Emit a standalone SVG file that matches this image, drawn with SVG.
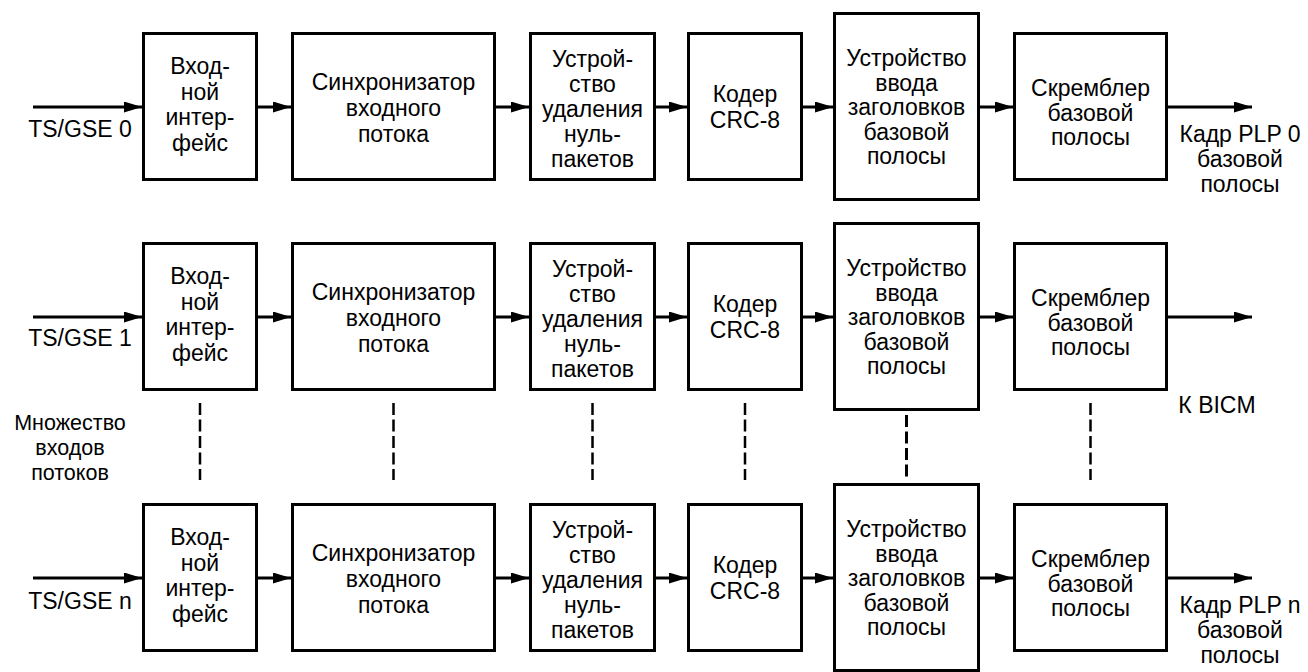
<svg xmlns="http://www.w3.org/2000/svg" width="1308" height="672" viewBox="0 0 1308 672">
<style>
  .box{fill:#fff;stroke:#000;stroke-width:3}
  .t{font-family:"Liberation Sans",Arial,sans-serif;font-size:23px;fill:#000;text-anchor:middle}
  .s{font-size:21.5px}
  .c{stroke:#000;stroke-width:3;fill:none}
  .d{stroke:#000;stroke-width:2.5;fill:none;stroke-dasharray:12 4.5}
</style>
<defs>
  <marker id="ah" markerUnits="userSpaceOnUse" markerWidth="18" markerHeight="11" refX="18" refY="5.5" orient="auto">
    <path d="M0,0 L18,5.5 L0,11 z" fill="#000"/>
  </marker>
</defs>
<rect width="1308" height="672" fill="#fff"/>

<!-- Row 0 -->
<g id="r0-iface"><rect class="box" x="143.5" y="33.5" width="113" height="146"/>
  <text class="t" x="200" y="74">Вход-</text><text class="t" x="200" y="99.5">ной</text><text class="t" x="200" y="125">интер-</text><text class="t" x="200" y="151">фейс</text></g>
<g id="r0-sync"><rect class="box" x="292.5" y="33.5" width="202" height="146"/>
  <text class="t" x="393.5" y="90">Синхронизатор</text><text class="t" x="393.5" y="116">входного</text><text class="t" x="393.5" y="141.5">потока</text></g>
<g id="r0-null"><rect class="box" x="530.5" y="33.5" width="124" height="146"/>
  <text class="t" x="592.5" y="66.5">Устрой-</text><text class="t" x="592.5" y="91.5">ство</text><text class="t" x="592.5" y="116.5">удаления</text><text class="t" x="592.5" y="141.5">нуль-</text><text class="t" x="592.5" y="166.5">пакетов</text></g>
<g id="r0-crc"><rect class="box" x="688.5" y="33.5" width="113" height="146"/>
  <text class="t" x="745" y="101.5">Кодер</text><text class="t" x="745" y="128">CRC-8</text></g>
<g id="r0-hdr"><rect class="box" x="834.5" y="13.5" width="144" height="186"/>
  <text class="t" x="906.5" y="66">Устройство</text><text class="t" x="906.5" y="90.5">ввода</text><text class="t" x="906.5" y="115">заголовков</text><text class="t" x="906.5" y="139.5">базовой</text><text class="t" x="906.5" y="164">полосы</text></g>
<g id="r0-scr"><rect class="box" x="1014.5" y="33.5" width="152" height="146"/>
  <text class="t" x="1090.5" y="96">Скремблер</text><text class="t" x="1090.5" y="120.5">базовой</text><text class="t" x="1090.5" y="145">полосы</text></g>

<!-- Row 1 -->
<g id="r1-iface" transform="translate(0,210)"><rect class="box" x="143.5" y="33.5" width="113" height="146"/>
  <text class="t" x="200" y="74">Вход-</text><text class="t" x="200" y="99.5">ной</text><text class="t" x="200" y="125">интер-</text><text class="t" x="200" y="151">фейс</text></g>
<g id="r1-sync" transform="translate(0,210)"><rect class="box" x="292.5" y="33.5" width="202" height="146"/>
  <text class="t" x="393.5" y="90">Синхронизатор</text><text class="t" x="393.5" y="116">входного</text><text class="t" x="393.5" y="141.5">потока</text></g>
<g id="r1-null" transform="translate(0,210)"><rect class="box" x="530.5" y="33.5" width="124" height="146"/>
  <text class="t" x="592.5" y="66.5">Устрой-</text><text class="t" x="592.5" y="91.5">ство</text><text class="t" x="592.5" y="116.5">удаления</text><text class="t" x="592.5" y="141.5">нуль-</text><text class="t" x="592.5" y="166.5">пакетов</text></g>
<g id="r1-crc" transform="translate(0,210)"><rect class="box" x="688.5" y="33.5" width="113" height="146"/>
  <text class="t" x="745" y="101.5">Кодер</text><text class="t" x="745" y="128">CRC-8</text></g>
<g id="r1-hdr" transform="translate(0,210)"><rect class="box" x="834.5" y="13.5" width="144" height="186"/>
  <text class="t" x="906.5" y="66">Устройство</text><text class="t" x="906.5" y="90.5">ввода</text><text class="t" x="906.5" y="115">заголовков</text><text class="t" x="906.5" y="139.5">базовой</text><text class="t" x="906.5" y="164">полосы</text></g>
<g id="r1-scr" transform="translate(0,210)"><rect class="box" x="1014.5" y="33.5" width="152" height="146"/>
  <text class="t" x="1090.5" y="96">Скремблер</text><text class="t" x="1090.5" y="120.5">базовой</text><text class="t" x="1090.5" y="145">полосы</text></g>

<!-- Row n -->
<g id="rn-iface" transform="translate(0,471)"><rect class="box" x="143.5" y="33.5" width="113" height="146"/>
  <text class="t" x="200" y="74">Вход-</text><text class="t" x="200" y="99.5">ной</text><text class="t" x="200" y="125">интер-</text><text class="t" x="200" y="151">фейс</text></g>
<g id="rn-sync" transform="translate(0,471)"><rect class="box" x="292.5" y="33.5" width="202" height="146"/>
  <text class="t" x="393.5" y="90">Синхронизатор</text><text class="t" x="393.5" y="116">входного</text><text class="t" x="393.5" y="141.5">потока</text></g>
<g id="rn-null" transform="translate(0,471)"><rect class="box" x="530.5" y="33.5" width="124" height="146"/>
  <text class="t" x="592.5" y="66.5">Устрой-</text><text class="t" x="592.5" y="91.5">ство</text><text class="t" x="592.5" y="116.5">удаления</text><text class="t" x="592.5" y="141.5">нуль-</text><text class="t" x="592.5" y="166.5">пакетов</text></g>
<g id="rn-crc" transform="translate(0,471)"><rect class="box" x="688.5" y="33.5" width="113" height="146"/>
  <text class="t" x="745" y="101.5">Кодер</text><text class="t" x="745" y="128">CRC-8</text></g>
<g id="rn-hdr" transform="translate(0,471)"><rect class="box" x="834.5" y="13.5" width="144" height="186"/>
  <text class="t" x="906.5" y="66">Устройство</text><text class="t" x="906.5" y="90.5">ввода</text><text class="t" x="906.5" y="115">заголовков</text><text class="t" x="906.5" y="139.5">базовой</text><text class="t" x="906.5" y="164">полосы</text></g>
<g id="rn-scr" transform="translate(0,471)"><rect class="box" x="1014.5" y="33.5" width="152" height="146"/>
  <text class="t" x="1090.5" y="96">Скремблер</text><text class="t" x="1090.5" y="120.5">базовой</text><text class="t" x="1090.5" y="145">полосы</text></g>

<!-- Connectors -->
<g id="connectors">
  <g id="row0-arrows">
    <line class="c" x1="33" y1="107" x2="142" y2="107" marker-end="url(#ah)"/>
    <line class="c" x1="258" y1="107" x2="291" y2="107" marker-end="url(#ah)"/>
    <line class="c" x1="496" y1="107" x2="529" y2="107" marker-end="url(#ah)"/>
    <line class="c" x1="656" y1="107" x2="687" y2="107" marker-end="url(#ah)"/>
    <line class="c" x1="803" y1="107" x2="833" y2="107" marker-end="url(#ah)"/>
    <line class="c" x1="980" y1="107" x2="1013" y2="107" marker-end="url(#ah)"/>
    <line class="c" x1="1168" y1="107" x2="1252" y2="107" marker-end="url(#ah)"/>
  </g>
  <g id="row1-arrows" transform="translate(0,210)">
    <line class="c" x1="33" y1="107" x2="142" y2="107" marker-end="url(#ah)"/>
    <line class="c" x1="258" y1="107" x2="291" y2="107" marker-end="url(#ah)"/>
    <line class="c" x1="496" y1="107" x2="529" y2="107" marker-end="url(#ah)"/>
    <line class="c" x1="656" y1="107" x2="687" y2="107" marker-end="url(#ah)"/>
    <line class="c" x1="803" y1="107" x2="833" y2="107" marker-end="url(#ah)"/>
    <line class="c" x1="980" y1="107" x2="1013" y2="107" marker-end="url(#ah)"/>
    <line class="c" x1="1168" y1="107" x2="1252" y2="107" marker-end="url(#ah)"/>
  </g>
  <g id="rown-arrows" transform="translate(0,471)">
    <line class="c" x1="33" y1="107" x2="142" y2="107" marker-end="url(#ah)"/>
    <line class="c" x1="258" y1="107" x2="291" y2="107" marker-end="url(#ah)"/>
    <line class="c" x1="496" y1="107" x2="529" y2="107" marker-end="url(#ah)"/>
    <line class="c" x1="656" y1="107" x2="687" y2="107" marker-end="url(#ah)"/>
    <line class="c" x1="803" y1="107" x2="833" y2="107" marker-end="url(#ah)"/>
    <line class="c" x1="980" y1="107" x2="1013" y2="107" marker-end="url(#ah)"/>
    <line class="c" x1="1168" y1="107" x2="1252" y2="107" marker-end="url(#ah)"/>
  </g>
  <g id="dashes">
    <line class="d" x1="200" y1="403" x2="200" y2="480"/>
    <line class="d" x1="393.5" y1="403" x2="393.5" y2="480"/>
    <line class="d" x1="592.5" y1="403" x2="592.5" y2="480"/>
    <line class="d" x1="745" y1="403" x2="745" y2="480"/>
    <line class="d" x1="906.5" y1="415" x2="906.5" y2="477" style="stroke-width:3"/>
    <line class="d" x1="1090.5" y1="403" x2="1090.5" y2="480"/>
  </g>
</g>

<!-- Labels -->
<g id="labels">
  <text class="t" x="80" y="137">TS/GSE 0</text>
  <text class="t" x="80" y="346">TS/GSE 1</text>
  <text class="t" x="80" y="609">TS/GSE n</text>
  <text class="t s" x="70" y="430">Множество</text>
  <text class="t s" x="70" y="455">входов</text>
  <text class="t s" x="70" y="480">потоков</text>
  <text class="t" x="1240" y="142">Кадр PLP 0</text>
  <text class="t" x="1240" y="167">базовой</text>
  <text class="t" x="1240" y="192">полосы</text>
  <text class="t" x="1217" y="413">К BICM</text>
  <text class="t" x="1240" y="613">Кадр PLP n</text>
  <text class="t" x="1240" y="638">базовой</text>
  <text class="t" x="1240" y="663">полосы</text>
</g>
</svg>
